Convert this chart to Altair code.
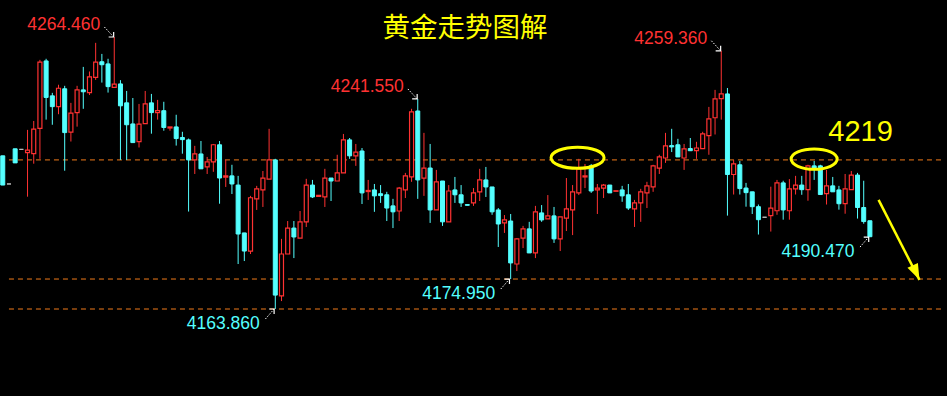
import altair as alt
import pandas as pd

# ---------------- data ----------------
FIRST_INDEX = -1
OPEN = [4220.5, 4210.1, 4223.1, 4222.9, 4221.7, 4221.3, 4230.7, 4255.6, 4242.7, 4238.7,
        4245.3, 4229.3, 4236.5, 4244.9, 4243.9, 4249.5, 4255.3, 4254.5, 4245.8, 4247.1,
        4240.1, 4232.3, 4225.8, 4232.4, 4240.1, 4236.5, 4237.2, 4230.8, 4231.2, 4227.3,
        4226.4, 4219.0, 4221.2, 4216.4, 4218.3, 4224.6, 4212.6, 4213.1, 4209.7, 4192.0,
        4185.3, 4204.6, 4207.9, 4211.9, 4219.0, 4168.7, 4184.2, 4193.8, 4190.1, 4196.1,
        4209.7, 4205.5, 4205.3, 4212.3, 4211.2, 4214.2, 4226.4, 4220.5, 4222.3, 4207.3,
        4207.9, 4206.5, 4206.1, 4202.0, 4200.1, 4207.9, 4212.7, 4237.1, 4212.3, 4216.0,
        4200.5, 4211.2, 4196.1, 4207.9, 4206.1, 4202.5, 4203.1, 4207.2, 4211.6, 4209.0,
        4200.5, 4195.7, 4196.4, 4180.5, 4190.1, 4193.5, 4184.6, 4199.4, 4197.2, 4198.3,
        4189.8, 4197.5, 4200.5, 4206.8, 4212.7, 4216.8, 4207.9, 4208.6, 4209.7, 4207.4,
        4207.9, 4206.1, 4200.9, 4203.1, 4206.8, 4209.0, 4216.0, 4219.7, 4224.3, 4224.6,
        4219.7, 4223.2, 4222.4, 4223.2, 4228.0, 4234.6, 4241.7, 4243.4, 4213.6, 4217.2,
        4208.6, 4207.2, 4201.7, 4197.8, 4198.4, 4200.2, 4210.5, 4200.2, 4208.3, 4209.7,
        4208.0, 4216.8, 4216.8, 4206.5, 4209.4, 4207.9, 4202.8, 4208.0, 4213.4, 4201.4,
        4196.5]
HIGH = [4220.5, 4210.1, 4223.1, 4222.9, 4230.1, 4233.4, 4256.0, 4256.4, 4243.8, 4246.8,
        4246.4, 4240.1, 4246.4, 4253.4, 4251.7, 4262.3, 4258.2, 4256.4, 4264.46, 4248.5,
        4244.5, 4241.9, 4239.7, 4244.5, 4243.4, 4241.2, 4240.5, 4231.2, 4235.7, 4229.4,
        4226.9, 4224.2, 4226.0, 4220.1, 4224.9, 4226.0, 4219.0, 4217.2, 4213.1, 4192.0,
        4205.7, 4209.4, 4214.9, 4230.5, 4219.4, 4189.8, 4196.4, 4196.4, 4200.1, 4212.0,
        4211.6, 4205.9, 4215.7, 4212.3, 4220.9, 4228.6, 4227.1, 4224.9, 4223.4, 4211.6,
        4210.1, 4209.7, 4207.2, 4204.6, 4209.0, 4214.2, 4237.9, 4241.55, 4229.0, 4224.9,
        4215.3, 4211.2, 4209.7, 4212.7, 4209.7, 4202.5, 4208.6, 4215.7, 4216.4, 4209.0,
        4201.2, 4198.6, 4199.0, 4190.1, 4194.6, 4196.1, 4202.0, 4202.3, 4206.0, 4201.6,
        4197.9, 4212.3, 4209.7, 4219.4, 4217.5, 4217.5, 4210.1, 4210.1, 4209.7, 4207.6,
        4209.4, 4210.1, 4204.2, 4208.3, 4210.9, 4217.2, 4220.9, 4229.0, 4230.5, 4226.8,
        4224.9, 4227.1, 4225.7, 4229.4, 4238.6, 4244.9, 4259.36, 4245.6, 4219.0, 4218.6,
        4210.5, 4207.2, 4202.5, 4197.8, 4209.1, 4211.6, 4211.3, 4211.9, 4213.1, 4213.1,
        4217.2, 4218.6, 4217.2, 4215.3, 4212.7, 4209.4, 4213.8, 4214.9, 4214.2, 4211.3,
        4196.5]
LOW = [4209.7, 4210.1, 4217.9, 4222.9, 4205.4, 4217.6, 4219.4, 4233.9, 4232.0, 4235.9,
       4215.0, 4225.8, 4231.3, 4237.9, 4243.0, 4248.6, 4247.6, 4243.9, 4245.8, 4219.0,
       4219.0, 4225.4, 4223.6, 4232.4, 4228.7, 4233.9, 4229.8, 4229.8, 4224.3, 4221.3,
       4199.9, 4213.8, 4215.7, 4213.8, 4214.6, 4202.8, 4209.0, 4206.4, 4180.5, 4181.6,
       4184.2, 4200.5, 4201.6, 4211.9, 4163.86, 4166.8, 4184.2, 4182.7, 4190.1, 4194.2,
       4204.9, 4205.5, 4201.6, 4203.8, 4211.2, 4214.2, 4219.4, 4216.8, 4202.7, 4204.2,
       4199.8, 4203.1, 4196.4, 4193.8, 4196.4, 4204.9, 4210.9, 4204.6, 4205.7, 4195.7,
       4200.5, 4194.6, 4196.1, 4203.1, 4201.6, 4202.2, 4202.0, 4203.8, 4205.3, 4198.7,
       4186.8, 4192.0, 4174.95, 4177.9, 4186.4, 4184.6, 4182.7, 4196.1, 4197.2, 4188.3,
       4185.3, 4192.7, 4191.2, 4206.0, 4208.6, 4206.8, 4199.0, 4204.9, 4206.8, 4207.4,
       4203.5, 4200.5, 4194.2, 4196.1, 4201.2, 4207.2, 4213.8, 4217.9, 4221.9, 4220.1,
       4215.3, 4222.4, 4219.4, 4223.2, 4220.9, 4228.4, 4233.9, 4198.4, 4206.2, 4206.2,
       4201.7, 4199.0, 4191.4, 4197.8, 4192.5, 4198.7, 4196.9, 4196.9, 4206.2, 4206.1,
       4203.9, 4211.6, 4206.2, 4202.5, 4207.2, 4200.6, 4199.1, 4208.0, 4197.3, 4195.4,
       4190.47]
CLOSE = [4209.7, 4210.1, 4217.9, 4222.9, 4222.6, 4230.4, 4255.2, 4242.1, 4238.7, 4245.5,
         4229.1, 4236.3, 4244.9, 4244.2, 4249.7, 4255.2, 4254.2, 4246.1, 4247.0, 4239.0,
         4232.0, 4225.4, 4232.2, 4239.7, 4236.5, 4237.2, 4231.0, 4231.2, 4226.9, 4226.5,
         4219.0, 4221.2, 4215.7, 4218.3, 4224.6, 4212.3, 4213.1, 4210.1, 4191.6, 4185.3,
         4205.0, 4208.3, 4212.3, 4219.0, 4169.0, 4184.2, 4193.8, 4190.5, 4196.1, 4209.7,
         4205.3, 4205.9, 4212.3, 4211.2, 4214.2, 4226.4, 4220.5, 4221.9, 4206.8, 4207.7,
         4205.7, 4205.8, 4201.2, 4199.8, 4208.6, 4213.1, 4236.8, 4211.6, 4216.0, 4200.5,
         4210.9, 4196.1, 4207.5, 4206.1, 4203.1, 4202.2, 4206.8, 4211.6, 4209.0, 4199.8,
         4195.3, 4196.8, 4180.9, 4189.8, 4193.5, 4184.6, 4199.8, 4196.8, 4198.3, 4189.8,
         4197.9, 4200.9, 4207.2, 4215.7, 4213.1, 4207.5, 4208.6, 4209.7, 4206.8, 4207.6,
         4205.7, 4201.2, 4203.1, 4207.2, 4209.4, 4216.8, 4220.1, 4224.2, 4223.8, 4220.1,
         4223.1, 4222.4, 4223.4, 4228.6, 4234.2, 4241.6, 4243.4, 4213.6, 4217.5, 4208.4,
         4206.9, 4201.7, 4196.9, 4197.8, 4201.2, 4210.5, 4200.5, 4208.3, 4209.7, 4208.0,
         4216.8, 4216.0, 4206.2, 4209.4, 4207.2, 4202.8, 4208.3, 4213.4, 4201.4, 4196.2,
         4190.6]

PEAK_BARS = [17, 66, 115]          # candles whose highs are labelled
TROUGH_BARS = [43, 81, 139]        # candles whose lows are labelled
LEVELS = [4219.0, 4174.95, 4163.86]
KEY_LEVEL_TEXT = "4219"
CIRCLED_BARS = [91.8, 130.0]
CIRCLED_PRICES = [4219.8, 4219.3]
TITLE = "黄金走势图解"

# ---------------- styling ----------------
RED = "#FF3232"
CYAN = "#54FFFF"
GREY = "#C0C0C0"
ORANGE = "#F07A1A"
YELLOW = "#FFFF00"
W, H = 947, 396
X_DOMAIN = [-0.639, 150.64]
Y_DOMAIN = [4131.69, 4278.14]
PX_PER_BAR = W / (X_DOMAIN[1] - X_DOMAIN[0])
PX_PER_PRICE = H / (Y_DOMAIN[1] - Y_DOMAIN[0])

n = len(OPEN)
df = pd.DataFrame({
    "i": list(range(FIRST_INDEX, FIRST_INDEX + n)),
    "o": OPEN, "h": HIGH, "l": LOW, "c": CLOSE,
})
df["kind"] = ["up" if c > o else ("down" if c < o else "flat") for o, c in zip(OPEN, CLOSE)]

xs = alt.Scale(domain=X_DOMAIN, nice=False, zero=False)
ys = alt.Scale(domain=Y_DOMAIN, nice=False, zero=False)
X = lambda f: alt.X(f, type="quantitative", scale=xs, axis=None)
Y = lambda f: alt.Y(f, type="quantitative", scale=ys, axis=None)

base = alt.Chart(df)
wicks = base.mark_rule(strokeWidth=1).encode(
    x=X("i"), y=Y("l"), y2="h",
    color=alt.Color("kind:N", scale=alt.Scale(domain=["up", "down", "flat"], range=[RED, CYAN, GREY]), legend=None),
)
up = base.transform_filter("datum.kind == 'up'").mark_bar(size=4, fill="black", stroke=RED, strokeWidth=1.2).encode(
    x=X("i"), y=Y("o"), y2="c")
down = base.transform_filter("datum.kind == 'down'").mark_bar(size=4, fill=CYAN, stroke=CYAN, strokeWidth=1).encode(
    x=X("i"), y=Y("o"), y2="c")
flat = base.transform_filter("datum.kind == 'flat'").mark_bar(size=4, fill=GREY, stroke=GREY, strokeWidth=1).encode(
    x=X("i"), y=Y("o"), y2="c")

# horizontal dashed levels
lv = pd.DataFrame({"p": LEVELS, "x0": [0] * len(LEVELS), "x1": [X_DOMAIN[1]] * len(LEVELS)})
levels = alt.Chart(lv).mark_rule(color=ORANGE, strokeWidth=1, strokeDash=[5, 4]).encode(
    x=X("x0"), x2="x1", y=Y("p"))

# labels for highs and lows
def value_at(arr, bar):
    return arr[bar - FIRST_INDEX]

peaks = pd.DataFrame({"i": PEAK_BARS, "p": [value_at(HIGH, b) for b in PEAK_BARS]})
peaks["t"] = [f"{v:.3f}" for v in peaks["p"]]
troughs = pd.DataFrame({"i": TROUGH_BARS, "p": [value_at(LOW, b) for b in TROUGH_BARS]})
troughs["t"] = [f"{v:.3f}" for v in troughs["p"]]

LABEL_FONT = "Liberation Sans"
peak_text = alt.Chart(peaks).mark_text(align="right", baseline="middle", dx=-14, dy=-11.5,
                                       font=LABEL_FONT, fontSize=17.5, color=RED).encode(
    x=X("i"), y=Y("p"), text="t:N")
trough_text = alt.Chart(troughs).mark_text(align="right", baseline="middle", dx=-15.5, dy=14.5,
                                           font=LABEL_FONT, fontSize=17.5, color=CYAN).encode(
    x=X("i"), y=Y("p"), text="t:N")

arr_len_i = 10 / PX_PER_BAR
arr_len_p = 10 / PX_PER_PRICE
tip_gap_i = 0.6 / PX_PER_BAR
pk = peaks.assign(xa=peaks["i"] - arr_len_i, ya=peaks["p"] + arr_len_p, xb=peaks["i"] - tip_gap_i, yb=peaks["p"])
tr = troughs.assign(xa=troughs["i"] - arr_len_i, ya=troughs["p"] - arr_len_p,
                    xb=troughs["i"] - 1.2 / PX_PER_BAR, yb=troughs["p"])
arrows = pd.concat([pk, tr])
arrow_lines = alt.Chart(arrows).mark_rule(color="white", strokeWidth=1, strokeDash=[1.5, 1.5]).encode(
    x=X("xa"), y=Y("ya"), x2="xb", y2="yb")
head_down = alt.Chart(pk).mark_point(shape="M -1 0 L 0 0 L 0 -1", size=100, filled=False, color="white",
                                     strokeWidth=1.2, opacity=1).encode(x=X("xb"), y=Y("yb"))
head_up = alt.Chart(tr).mark_point(shape="M -1 0 L 0 0 L 0 1", size=100, filled=False, color="white",
                                   strokeWidth=1.2, opacity=1).encode(x=X("xb"), y=Y("yb"))

# yellow ellipses
def ellipse_path(r):
    k = 0.5523
    return (f"M -1 0 C -1 {-k*r:.4f} {-k:.4f} {-r:.4f} 0 {-r:.4f} "
            f"C {k:.4f} {-r:.4f} 1 {-k*r:.4f} 1 0 "
            f"C 1 {k*r:.4f} {k:.4f} {r:.4f} 0 {r:.4f} "
            f"C {-k:.4f} {r:.4f} -1 {k*r:.4f} -1 0 Z")

ell_df = pd.DataFrame({"i": CIRCLED_BARS, "p": CIRCLED_PRICES})
ell1 = alt.Chart(ell_df.iloc[[0]]).mark_point(shape=ellipse_path(0.40), size=(2 * 26.5) ** 2, filled=False,
                                              color=YELLOW, strokeWidth=3, opacity=1).encode(x=X("i"), y=Y("p"))
ell2 = alt.Chart(ell_df.iloc[[1]]).mark_point(shape=ellipse_path(0.44), size=(2 * 23) ** 2, filled=False,
                                              color=YELLOW, strokeWidth=3, opacity=1).encode(x=X("i"), y=Y("p"))

key_df = pd.DataFrame({"i": [137.5], "p": [LEVELS[0]], "t": [KEY_LEVEL_TEXT]})
key_text = alt.Chart(key_df).mark_text(align="center", baseline="middle", dy=-27.5, font="Liberation Sans",
                                       fontSize=29, color=YELLOW).encode(x=X("i"), y=Y("p"), text="t:N")

# yellow projection arrow towards the lower level
proj = pd.DataFrame({"xa": [140.4], "ya": [4204.2], "xb": [147.0], "yb": [LEVELS[1] - 0.3]})
proj_line = alt.Chart(proj).mark_rule(color=YELLOW, strokeWidth=2.5).encode(
    x=X("xa"), y=Y("ya"), x2="xb", y2="yb")
proj_head = alt.Chart(proj).mark_point(shape="M 0 0 L -0.36 -1 L 0.36 -1 Z", size=(2 * 16) ** 2, filled=True,
                                       color=YELLOW, angle=335, opacity=1).encode(x=X("xb"), y=Y("yb"))

title_df = pd.DataFrame({"t": [TITLE]})
title = alt.Chart(title_df).mark_text(align="center", baseline="middle", font="Noto Sans CJK SC",
                                      fontSize=27.5, color=YELLOW).encode(
    x=alt.value(465), y=alt.value(29), text="t:N")

chart = alt.layer(
    levels, wicks, up, down, flat,
    arrow_lines, head_down, head_up, peak_text, trough_text,
    ell1, ell2, key_text, proj_line, proj_head, title,
).properties(
    width=W, height=H, background="black", padding=0,
    autosize=alt.AutoSizeParams(type="none"),
).configure_view(strokeWidth=0)

chart.save("out.html", embed_options={"renderer": "svg", "actions": False})
